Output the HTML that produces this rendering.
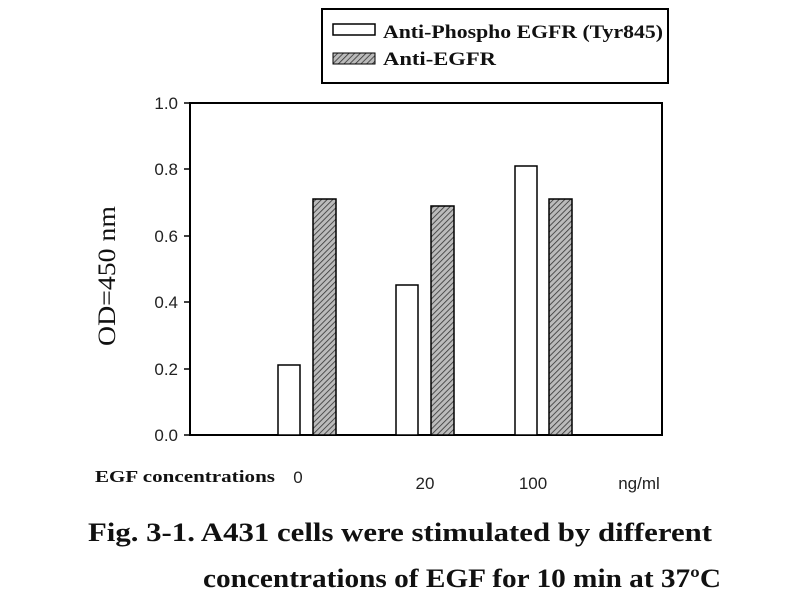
<!DOCTYPE html><html><head><style>body{margin:0;background:#fff}</style></head><body>
<svg width="800" height="600" xmlns="http://www.w3.org/2000/svg">
<defs><pattern id="h" width="4" height="4" patternUnits="userSpaceOnUse" patternTransform="rotate(45)"><rect width="4" height="4" fill="#bbb"/><line x1="0" y1="0" x2="0" y2="4" stroke="#333" stroke-width="1.6"/></pattern></defs>
<rect x="322" y="9" width="346" height="74" fill="#fff" stroke="#000" stroke-width="2"/>
<rect x="333" y="24" width="42" height="11" fill="#fff" stroke="#000" stroke-width="1.5"/>
<rect x="333" y="53" width="42" height="11" fill="url(#h)" stroke="#000" stroke-width="1"/>
<g font-family="Liberation Serif" font-weight="bold" font-size="19" fill="#111">
<text x="383" y="38" textLength="280" lengthAdjust="spacingAndGlyphs">Anti-Phospho EGFR (Tyr845)</text>
<text x="383" y="65" textLength="113" lengthAdjust="spacingAndGlyphs">Anti-EGFR</text>
<text x="95" y="482" font-size="17" textLength="180" lengthAdjust="spacingAndGlyphs">EGF concentrations</text>
<text x="88" y="541" font-size="26" textLength="624" lengthAdjust="spacingAndGlyphs">Fig. 3-1.  A431 cells were stimulated by different</text>
<text x="203" y="587" font-size="26" textLength="518" lengthAdjust="spacingAndGlyphs">concentrations of EGF for 10 min at 37ºC</text>
</g>
<rect x="190" y="103" width="472" height="332" fill="none" stroke="#000" stroke-width="2"/>
<g stroke="#000" stroke-width="1.5">
<line x1="184" y1="103" x2="190" y2="103"/><line x1="184" y1="169" x2="190" y2="169"/><line x1="184" y1="236" x2="190" y2="236"/><line x1="184" y1="302" x2="190" y2="302"/><line x1="184" y1="369" x2="190" y2="369"/><line x1="184" y1="435" x2="190" y2="435"/>
</g>
<g font-family="Liberation Sans" font-size="17" fill="#222" text-anchor="end">
<text x="178" y="109">1.0</text><text x="178" y="175">0.8</text><text x="178" y="242">0.6</text><text x="178" y="308">0.4</text><text x="178" y="375">0.2</text><text x="178" y="441">0.0</text>
</g>
<g font-family="Liberation Sans" font-size="17" fill="#222" text-anchor="middle">
<text x="298" y="483">0</text><text x="425" y="489">20</text><text x="533" y="489">100</text><text x="639" y="489">ng/ml</text>
</g>
<text transform="translate(115,276) rotate(-90)" font-family="Liberation Serif" font-size="25" text-anchor="middle" fill="#111" textLength="140" lengthAdjust="spacingAndGlyphs">OD=450 nm</text>
<g stroke="#000" stroke-width="1.5">
<rect x="278" y="365" width="22" height="70" fill="#fff"/>
<rect x="313" y="199" width="23" height="236" fill="url(#h)"/>
<rect x="396" y="285" width="22" height="150" fill="#fff"/>
<rect x="431" y="206" width="23" height="229" fill="url(#h)"/>
<rect x="515" y="166" width="22" height="269" fill="#fff"/>
<rect x="549" y="199" width="23" height="236" fill="url(#h)"/>
</g>
</svg></body></html>
